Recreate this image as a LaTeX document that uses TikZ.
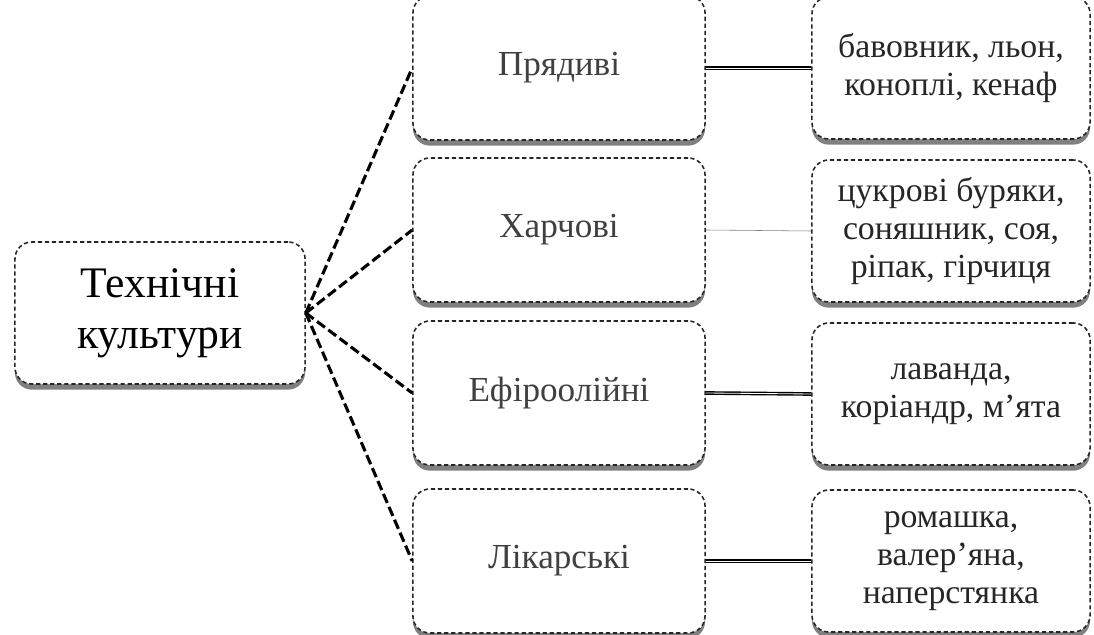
\documentclass[tikz,border=0pt]{standalone}
\usepackage{fontspec}
\setmainfont{Liberation Serif}
\usetikzlibrary{shadows}

\begin{document}
\begin{tikzpicture}[x=0.025cm, y=-0.025cm,
  box/.style={draw=black!85, densely dashed, line width=1.1pt, rounded corners=12pt, fill=white,
    drop shadow={opacity=1, shadow xshift=0pt, shadow yshift=-4pt},
    align=center, inner sep=0pt},
  rootbox/.style={box, minimum width=7.25cm, minimum height=3.55cm,
    font=\fontsize{31}{36}\selectfont},
  groupbox/.style={box, minimum width=7.3cm, minimum height=3.6cm,
    text=black!75, font=\fontsize{25}{28}\selectfont},
  cropbox/.style={box, minimum width=6.95cm, minimum height=3.55cm,
    text=black!85, font=\fontsize{24}{27}\selectfont},
  link/.style={line width=2.2pt, dash pattern=on 7pt off 3pt, black},
  pair/.style={double, line width=1pt, black}]

\useasboundingbox (0,0) rectangle (1094,635);

% Root
\node[rootbox]  (tech)  at (160,313) {Технічні\\культури};

% Groups
\node[groupbox] (pryad) at (559,68)  {Прядиві};
\node[groupbox] (kharch) at (559,230) {Харчові};
\node[groupbox] (efir)  at (559,393) {Ефіроолійні};
\node[groupbox] (likar) at (559,561) {Лікарські};

% Crops
\node[cropbox]  (pryadc)  at (951,68)  {бавовник, льон,\\коноплі, кенаф};
\node[cropbox]  (kharchc) at (951,231) {цукрові буряки,\\соняшник, соя,\\ріпак, гірчиця};
\node[cropbox]  (efirc)   at (951,394) {лаванда,\\коріандр, м'ята};
\node[cropbox]  (likarc)  at (951,561) {ромашка,\\валер'яна,\\наперстянка};

\draw[link] (tech.east) -- (pryad.west);
\draw[link] (tech.east) -- (kharch.west);
\draw[link] (tech.east) -- (efir.west);
\draw[link] (tech.east) -- (likar.west);

\draw[pair] (pryad.east) -- (pryadc.west);
\draw[black!50] (kharch.east) -- (kharchc.west);
\draw[pair] (efir.east) -- (efirc.west);
\draw[pair] (likar.east) -- (likarc.west);
\end{tikzpicture}
\end{document}
